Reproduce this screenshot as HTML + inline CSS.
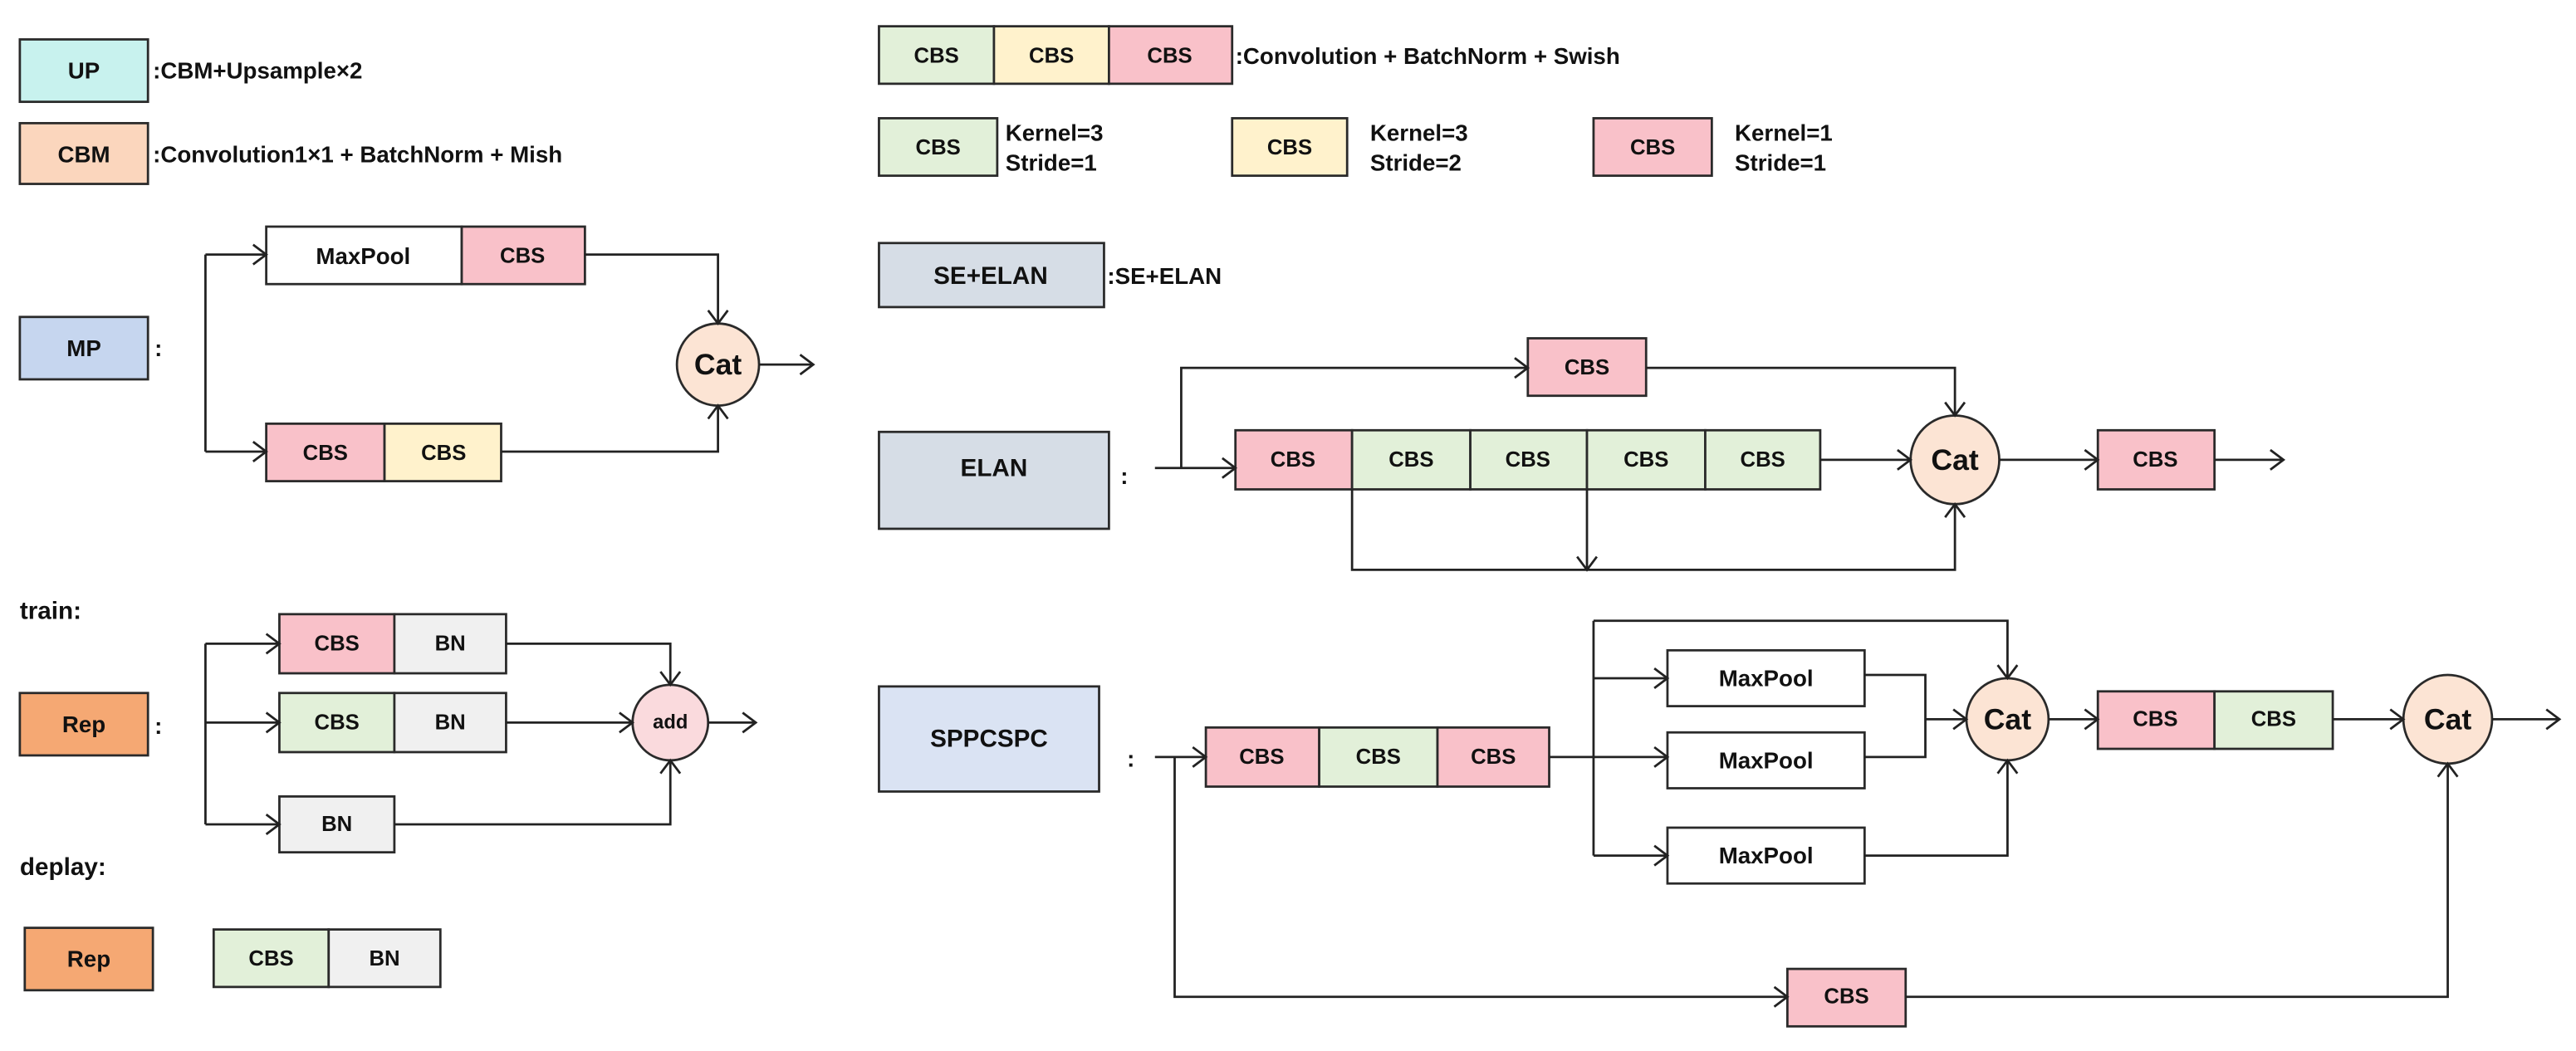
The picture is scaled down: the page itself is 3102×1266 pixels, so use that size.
<!DOCTYPE html>
<html><head><meta charset="utf-8"><style>
html,body{margin:0;padding:0;background:#fff;}
svg{display:block;}
text{font-family:"Liberation Sans",Arial,sans-serif;font-weight:bold;fill:#111;}
</style></head><body>
<svg width="3102" height="1266" viewBox="0 0 1568 640" xmlns="http://www.w3.org/2000/svg">
<defs>
<marker id="a" markerUnits="userSpaceOnUse" markerWidth="14" markerHeight="14" refX="12" refY="7" orient="auto">
<path d="M4,1 L12,7 L4,13" fill="none" stroke="#222" stroke-width="1.4"/>
</marker>
</defs>
<g stroke="#2a2a2a" stroke-width="1.4">
<!-- Legend left -->
<rect x="12" y="24" width="78" height="38" fill="#c8f2ee"/>
<rect x="12" y="75" width="78" height="37" fill="#fbd6bd"/>
<rect x="12" y="193" width="78" height="38" fill="#c6d6ef"/>
<!-- MP -->
<rect x="162" y="138" width="119" height="35" fill="#fff"/>
<rect x="281" y="138" width="75" height="35" fill="#f9c1c9"/>
<rect x="162" y="258" width="72" height="35" fill="#f9c1c9"/>
<rect x="234" y="258" width="71" height="35" fill="#fff2cc"/>
<circle cx="437" cy="222" r="25" fill="#fce4d4"/>
<!-- legend right -->
<rect x="535" y="16" width="70" height="35" fill="#e2f0d9"/>
<rect x="605" y="16" width="70" height="35" fill="#fff2cc"/>
<rect x="675" y="16" width="75" height="35" fill="#f9c1c9"/>
<rect x="535" y="72" width="72" height="35" fill="#e2f0d9"/>
<rect x="750" y="72" width="70" height="35" fill="#fff2cc"/>
<rect x="970" y="72" width="72" height="35" fill="#f9c1c9"/>
<rect x="535" y="148" width="137" height="39" fill="#d6dde6"/>
<!-- ELAN -->
<rect x="535" y="263" width="140" height="59" fill="#d6dde6"/>
<rect x="930" y="206" width="72" height="35" fill="#f9c1c9"/>
<rect x="752" y="262" width="71" height="36" fill="#f9c1c9"/>
<rect x="823" y="262" width="72" height="36" fill="#e2f0d9"/>
<rect x="895" y="262" width="71" height="36" fill="#e2f0d9"/>
<rect x="966" y="262" width="72" height="36" fill="#e2f0d9"/>
<rect x="1038" y="262" width="70" height="36" fill="#e2f0d9"/>
<circle cx="1190" cy="280" r="27" fill="#fce4d4"/>
<rect x="1277" y="262" width="71" height="36" fill="#f9c1c9"/>
<!-- Rep -->
<rect x="12" y="422" width="78" height="38" fill="#f5a873"/>
<rect x="170" y="374" width="70" height="36" fill="#f9c1c9"/>
<rect x="240" y="374" width="68" height="36" fill="#f0f0f0"/>
<rect x="170" y="422" width="70" height="36" fill="#e2f0d9"/>
<rect x="240" y="422" width="68" height="36" fill="#f0f0f0"/>
<rect x="170" y="485" width="70" height="34" fill="#f0f0f0"/>
<circle cx="408" cy="440" r="23" fill="#fadadd"/>
<rect x="15" y="565" width="78" height="38" fill="#f5a873"/>
<rect x="130" y="566" width="70" height="35" fill="#e2f0d9"/>
<rect x="200" y="566" width="68" height="35" fill="#f0f0f0"/>
<!-- SPPCSPC -->
<rect x="535" y="418" width="134" height="64" fill="#dae3f3"/>
<rect x="734" y="443" width="69" height="36" fill="#f9c1c9"/>
<rect x="803" y="443" width="72" height="36" fill="#e2f0d9"/>
<rect x="875" y="443" width="68" height="36" fill="#f9c1c9"/>
<rect x="1015" y="396" width="120" height="34" fill="#fff"/>
<rect x="1015" y="446" width="120" height="34" fill="#fff"/>
<rect x="1015" y="504" width="120" height="34" fill="#fff"/>
<circle cx="1222" cy="438" r="25" fill="#fce4d4"/>
<rect x="1277" y="421" width="71" height="35" fill="#f9c1c9"/>
<rect x="1348" y="421" width="72" height="35" fill="#e2f0d9"/>
<circle cx="1490" cy="438" r="27" fill="#fce4d4"/>
<rect x="1088" y="590" width="72" height="35" fill="#f9c1c9"/>
</g>
<g fill="none" stroke="#222" stroke-width="1.4">
<!-- MP lines -->
<path d="M162,155 H125 V275 H162" stroke="none"/>
<path d="M125,155 V275"/>
<path d="M125,155 H162" marker-end="url(#a)"/>
<path d="M125,275 H162" marker-end="url(#a)"/>
<path d="M356,155 H437 V197" marker-end="url(#a)"/>
<path d="M305,275 H437 V247" marker-end="url(#a)"/>
<path d="M462,222 H495" marker-end="url(#a)"/>
<!-- ELAN lines -->
<path d="M703,285 H752" marker-end="url(#a)"/>
<path d="M719,285 V224 H930" marker-end="url(#a)"/>
<path d="M1002,224 H1190 V253" marker-end="url(#a)"/>
<path d="M1108,280 H1163" marker-end="url(#a)"/>
<path d="M1217,280 H1277" marker-end="url(#a)"/>
<path d="M1348,280 H1390" marker-end="url(#a)"/>
<path d="M823,298 V347 H1190 V307" marker-end="url(#a)"/>
<path d="M966,298 V347" marker-end="url(#a)"/>
<!-- Rep lines -->
<path d="M125,392 V502"/>
<path d="M125,392 H170" marker-end="url(#a)"/>
<path d="M125,440 H170" marker-end="url(#a)"/>
<path d="M125,502 H170" marker-end="url(#a)"/>
<path d="M308,392 H408 V417" marker-end="url(#a)"/>
<path d="M308,440 H385" marker-end="url(#a)"/>
<path d="M240,502 H408 V463" marker-end="url(#a)"/>
<path d="M431,440 H460" marker-end="url(#a)"/>
<!-- SPPCSPC lines -->
<path d="M703,461 H734" marker-end="url(#a)"/>
<path d="M715,461 V607 H1088" marker-end="url(#a)"/>
<path d="M1160,607 H1490 V465" marker-end="url(#a)"/>
<path d="M943,461 H970"/>
<path d="M970,378 V521"/>
<path d="M970,378 H1222 V413" marker-end="url(#a)"/>
<path d="M970,413 H1015" marker-end="url(#a)"/>
<path d="M970,461 H1015" marker-end="url(#a)"/>
<path d="M970,521 H1015" marker-end="url(#a)"/>
<path d="M1135,411 H1172 V461 H1135"/>
<path d="M1172,438 H1197" marker-end="url(#a)"/>
<path d="M1135,521 H1222 V463" marker-end="url(#a)"/>
<path d="M1247,438 H1277" marker-end="url(#a)"/>
<path d="M1420,438 H1463" marker-end="url(#a)"/>
<path d="M1517,438 H1558" marker-end="url(#a)"/>
</g>
<g font-size="14" text-anchor="middle" dominant-baseline="central">
<text x="51" y="43">UP</text>
<text x="51" y="94">CBM</text>
<text x="51" y="212">MP</text>
<text x="221" y="156">MaxPool</text>
<text x="318" y="156" font-size="13">CBS</text>
<text x="198" y="276" font-size="13">CBS</text>
<text x="270" y="276" font-size="13">CBS</text>
<text x="437" y="222" font-size="18">Cat</text>
<g font-size="13">
<text x="570" y="34">CBS</text><text x="640" y="34">CBS</text><text x="712" y="34">CBS</text>
<text x="571" y="90">CBS</text><text x="785" y="90">CBS</text><text x="1006" y="90">CBS</text>
<text x="966" y="224">CBS</text>
<text x="787" y="280">CBS</text><text x="859" y="280">CBS</text><text x="930" y="280">CBS</text><text x="1002" y="280">CBS</text><text x="1073" y="280">CBS</text>
<text x="1312" y="280">CBS</text>
<text x="205" y="392">CBS</text><text x="274" y="392">BN</text>
<text x="205" y="440">CBS</text><text x="274" y="440">BN</text>
<text x="205" y="502">BN</text>
<text x="165" y="584">CBS</text><text x="234" y="584">BN</text>
<text x="768" y="461">CBS</text><text x="839" y="461">CBS</text><text x="909" y="461">CBS</text>
<text x="1312" y="438">CBS</text><text x="1384" y="438">CBS</text>
<text x="1124" y="607">CBS</text>
</g>
<text x="603" y="168" font-size="15">SE+ELAN</text>
<text x="605" y="285" font-size="15">ELAN</text>
<text x="1190" y="280" font-size="18">Cat</text>
<text x="51" y="441">Rep</text>
<text x="408" y="440" font-size="12">add</text>
<text x="54" y="584">Rep</text>
<text x="602" y="450" font-size="15">SPPCSPC</text>
<text x="1075" y="413">MaxPool</text>
<text x="1075" y="463">MaxPool</text>
<text x="1075" y="521">MaxPool</text>
<text x="1222" y="438" font-size="18">Cat</text>
<text x="1490" y="438" font-size="18">Cat</text>
</g>
<g font-size="14" dominant-baseline="central">
<text x="93" y="43">:CBM+Upsample×2</text>
<text x="93" y="94">:Convolution1×1 + BatchNorm + Mish</text>
<text x="94" y="212">:</text>
<text x="752" y="34">:Convolution + BatchNorm + Swish</text>
<text x="612" y="81">Kernel=3</text><text x="612" y="99">Stride=1</text>
<text x="834" y="81">Kernel=3</text><text x="834" y="99">Stride=2</text>
<text x="1056" y="81">Kernel=1</text><text x="1056" y="99">Stride=1</text>
<text x="674" y="168">:SE+ELAN</text>
<text x="682" y="290">:</text>
<text x="12" y="372" font-size="15">train:</text>
<text x="94" y="442">:</text>
<text x="12" y="528" font-size="15">deplay:</text>
<text x="686" y="462">:</text>
</g>
</svg>
</body></html>
